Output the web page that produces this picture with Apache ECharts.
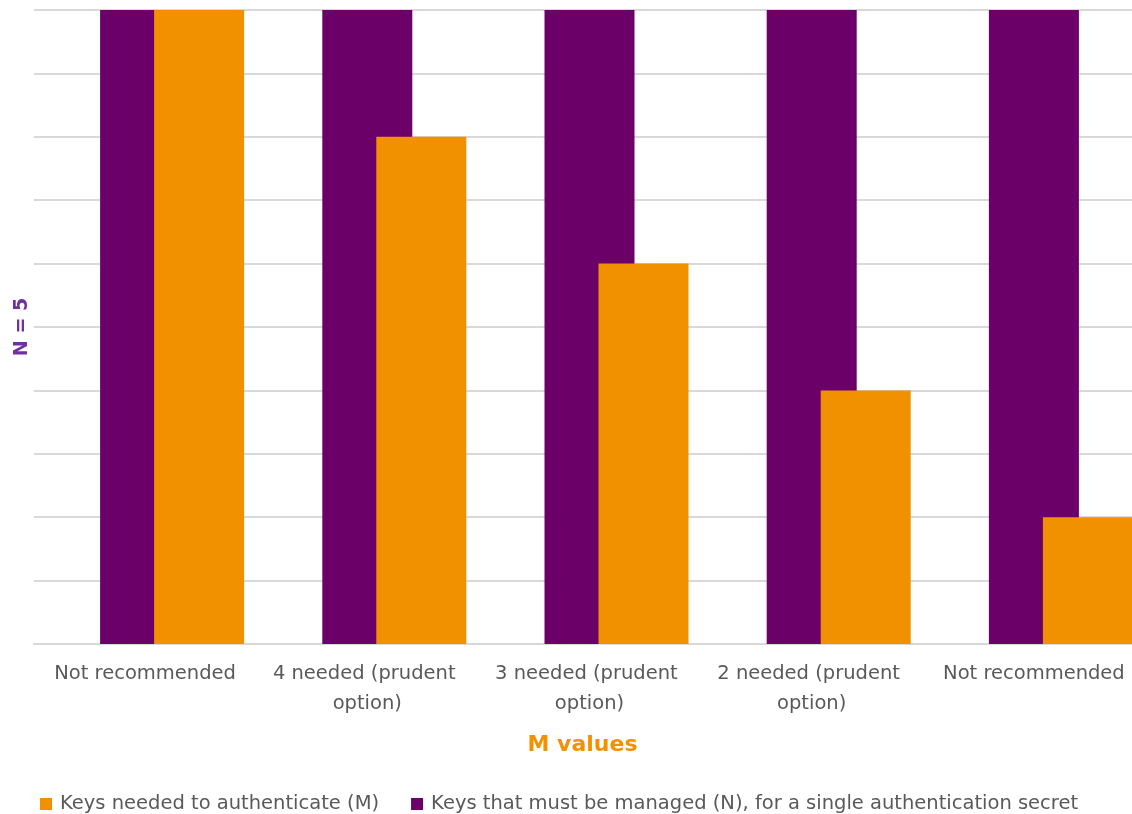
<!DOCTYPE html>
<html>
<head>
<meta charset="utf-8">
<script src="https://cdn.jsdelivr.net/npm/echarts@6/dist/echarts.min.js"></script>
<style>
html,body{margin:0;padding:0;background:#fff;overflow:hidden;width:1132px;height:814px;}
#chart{width:1145px;height:814px;}
</style>
</head>
<body>
<div id="chart"></div>
<script>
var categories = ['Not recommended', '4 needed (prudent option)', '3 needed (prudent option)', '2 needed (prudent option)', 'Not recommended'];
var keysNeededM = [5, 4, 3, 2, 1];
var keysManagedN = [5, 5, 5, 5, 5];
var nameM = 'Keys needed to authenticate (M)';
var nameN = 'Keys that must be managed (N), for a single authentication secret';

var chart = echarts.init(document.getElementById('chart'), null, {renderer: 'canvas'});
var FONT = 'DejaVu Sans';
chart.setOption({
  animation: false,
  textStyle: {fontFamily: FONT},
  grid: {left: 34, right: 0, top: 10, bottom: 170, containLabel: false},
  legend: {
    data: [nameM, nameN],
    left: 35, top: 789,
    itemWidth: 12, itemHeight: 12, itemGap: 32,
    icon: 'rect',
    textStyle: {fontFamily: FONT, fontSize: 19.5, color: '#595959', padding: [0, 0, 0, 3]}
  },
  xAxis: {
    type: 'category',
    data: categories,
    name: 'M values',
    nameLocation: 'middle',
    nameGap: 90,
    nameTextStyle: {fontFamily: FONT, fontSize: 22, fontWeight: 'bold', color: '#F39200', padding: [0, 14, 0, 0]},
    axisLine: {lineStyle: {color: '#D9D9D9', width: 2}},
    axisTick: {show: false},
    axisLabel: {
      interval: 0, fontFamily: FONT, fontSize: 19.5, color: '#595959',
      lineHeight: 30, margin: 15, width: 205, overflow: 'break'
    }
  },
  yAxis: {
    type: 'value',
    min: 0, max: 5, interval: 0.5,
    name: 'N = 5',
    nameLocation: 'middle',
    nameGap: 2,
    nameTextStyle: {fontFamily: FONT, fontSize: 19, fontWeight: 'bold', color: '#7030A0'},
    axisLine: {show: false},
    axisTick: {show: false},
    axisLabel: {show: false},
    splitLine: {lineStyle: {color: '#D9D9D9', width: 2}}
  },
  series: [
    {name: '_spacer', type: 'bar', data: [], barWidth: 90, barGap: '-40%', silent: true},
    {name: nameN, type: 'bar', data: keysManagedN, barWidth: 90, barGap: '-40%',
     itemStyle: {color: '#6B0068'}},
    {name: nameM, type: 'bar', data: keysNeededM, barWidth: 90, barGap: '-40%',
     itemStyle: {color: '#F29100'}}
  ],
  color: ['#F29100', '#6B0068']
});
</script>
</body>
</html>
